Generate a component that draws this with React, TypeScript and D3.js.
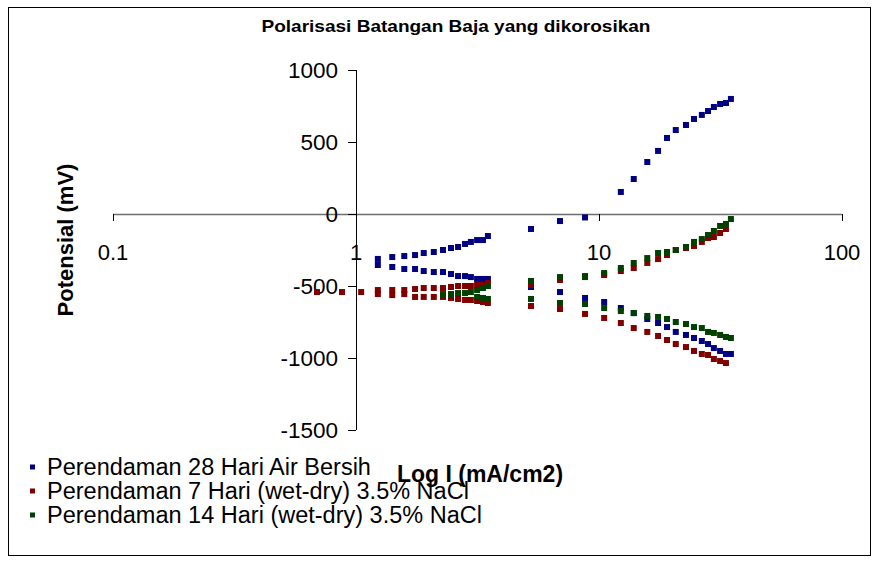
import React, { useEffect, useRef } from "react";
import * as d3 from "d3";

const title = "Polarisasi Batangan Baja yang dikorosikan";
const xTicks = [0.1, 1, 10, 100];
const yTicks = [1000, 500, 0, -500, -1000, -1500];

// Perendaman 28 Hari Air Bersih
const airUpI = [1.23, 1.41, 1.58, 1.75, 1.9, 2.09, 2.28, 2.46, 2.63, 2.81, 2.97, 3.15, 3.33, 3.49, 5.25, 6.91, 8.76, 12.3, 13.9, 15.8, 17.5, 19.05, 20.7, 22.8, 24.6, 26.5, 28.1, 29.7, 31.5, 33.3, 34.9];
const airUpE = [-312, -299, -292, -285, -271, -264, -250, -236, -229, -208, -194, -181, -181, -153, -104, -49, -24, 153, 243, 361, 438, 528, 583, 618, 660, 688, 715, 743, 764, 771, 799];
const airLowI = [1.23, 1.41, 1.58, 1.75, 1.9, 2.09, 2.28, 2.46, 2.63, 2.81, 2.97, 3.15, 3.33, 3.49, 5.25, 6.91, 8.76, 10.5, 12.3, 13.9, 15.8, 17.5, 19.05, 20.7, 22.8, 24.6, 26.5, 28.1, 29.7, 31.5, 33.3, 34.9];
const airLowE = [-354, -368, -382, -382, -396, -403, -403, -417, -431, -431, -438, -451, -451, -451, -507, -542, -583, -611, -653, -688, -729, -757, -785, -819, -840, -861, -882, -903, -931, -951, -972, -972];

// Perendaman 7 Hari (wet-dry)
const h7UpI = [0.691, 0.876, 1.05, 1.23, 1.41, 1.58, 1.75, 1.9, 2.09, 2.28, 2.46, 2.63, 2.81, 2.97, 3.15, 3.33, 3.49, 5.25, 6.91, 8.76, 10.5, 12.3, 13.9, 15.8, 17.5, 19.05, 20.7, 22.8, 24.6, 26.5, 28.1, 29.7, 31.5, 33.3];
const h7UpE = [-542, -542, -542, -528, -528, -528, -521, -514, -514, -514, -507, -500, -500, -500, -493, -493, -479, -493, -458, -438, -424, -396, -375, -340, -313, -285, -250, -236, -222, -194, -167, -160, -132, -104];
const h7LowI = [1.23, 1.41, 1.58, 1.75, 1.9, 2.09, 2.28, 2.46, 2.63, 2.81, 2.97, 3.15, 3.33, 3.49, 5.25, 6.91, 8.76, 10.5, 12.3, 13.9, 15.8, 17.5, 19.05, 20.7, 22.8, 24.6, 26.5, 28.1, 29.7, 31.5, 33.3];
const h7LowE = [-556, -563, -556, -576, -576, -576, -576, -583, -590, -597, -597, -604, -611, -618, -639, -660, -694, -722, -757, -792, -819, -847, -875, -903, -924, -951, -972, -979, -1007, -1021, -1035];

// Perendaman 14 Hari (wet-dry)
const h14UpI = [2.28, 2.46, 2.63, 2.81, 2.97, 3.15, 3.33, 3.49, 5.25, 6.91, 8.76, 10.5, 12.3, 13.9, 15.8, 17.5, 19.05, 20.7, 22.8, 24.6, 26.5, 28.1, 29.7, 31.5, 33.3, 34.9];
const h14UpE = [-556, -556, -549, -549, -542, -528, -514, -500, -465, -438, -431, -410, -375, -340, -306, -271, -264, -250, -229, -194, -174, -146, -118, -83, -69, -35];
const h14LowI = [3.15, 3.33, 3.49, 5.25, 6.91, 8.76, 10.5, 12.3, 13.9, 15.8, 17.5, 19.05, 20.7, 22.8, 24.6, 26.5, 28.1, 29.7, 31.5, 33.3, 34.9];
const h14LowE = [-576, -583, -590, -590, -618, -625, -653, -674, -688, -708, -715, -729, -750, -764, -785, -792, -819, -826, -840, -854, -861];

const seriesNames = [
  "Perendaman 28 Hari Air Bersih",
  "Perendaman 7 Hari (wet-dry) 3.5% NaCl",
  "Perendaman 14 Hari (wet-dry) 3.5% NaCl",
];
const colors = ["#000080", "#800000", "#004000"];

const zip = (xs: number[], ys: number[]) => xs.map((x, i) => ({ x, y: ys[i] }));

export default function App() {
  const ref = useRef<SVGSVGElement>(null);

  useEffect(() => {
    const svg = d3.select(ref.current);
    svg.selectAll("*").remove();

    const font = "'Liberation Sans', Arial, sans-serif";
    const x = d3.scaleLog().domain([0.1, 100]).range([113, 842]);
    const y = d3.scaleLinear().domain([-1500, 1000]).range([430, 70]);

    // frame
    svg
      .append("rect")
      .attr("x", 8.5)
      .attr("y", 7.5)
      .attr("width", 862)
      .attr("height", 548)
      .attr("fill", "white")
      .attr("stroke", "#000")
      .attr("stroke-width", 1);

    svg
      .append("text")
      .attr("x", 456)
      .attr("y", 32)
      .attr("text-anchor", "middle")
      .attr("font-family", font)
      .attr("font-weight", "bold")
      .attr("font-size", 17)
      .attr("textLength", 389)
      .attr("lengthAdjust", "spacingAndGlyphs")
      .text(title);

    // x axis at y = 0
    const gx = svg.append("g");
    gx.append("line")
      .attr("x1", x(0.1))
      .attr("x2", x(100))
      .attr("y1", y(0) + 0.5)
      .attr("y2", y(0) + 0.5)
      .attr("stroke", "#6e6e6e")
      .attr("stroke-width", 1.5);
    gx.selectAll(".tick")
      .data(xTicks)
      .enter()
      .append("line")
      .attr("x1", (d) => Math.round(x(d)) + 0.5)
      .attr("x2", (d) => Math.round(x(d)) + 0.5)
      .attr("y1", y(0))
      .attr("y2", y(0) + 7)
      .attr("stroke", "#000");
    gx.selectAll(".lbl")
      .data(xTicks)
      .enter()
      .append("text")
      .attr("x", (d) => x(d))
      .attr("y", 260)
      .attr("text-anchor", "middle")
      .attr("font-family", font)
      .attr("font-size", 22)
      .text((d) => String(d));

    // y axis at x = 1
    const gy = svg.append("g");
    gy.append("line")
      .attr("x1", Math.round(x(1)) + 0.5)
      .attr("x2", Math.round(x(1)) + 0.5)
      .attr("y1", y(1000))
      .attr("y2", y(-1500))
      .attr("stroke", "#000");
    gy.selectAll(".tick")
      .data(yTicks)
      .enter()
      .append("line")
      .attr("x1", x(1) - 8)
      .attr("x2", x(1))
      .attr("y1", (d) => Math.round(y(d)) + 0.5)
      .attr("y2", (d) => Math.round(y(d)) + 0.5)
      .attr("stroke", "#000");
    gy.selectAll(".lbl")
      .data(yTicks)
      .enter()
      .append("text")
      .attr("x", 338)
      .attr("y", (d) => y(d) + 8)
      .attr("text-anchor", "end")
      .attr("font-family", font)
      .attr("font-size", 22.5)
      .text((d) => String(d));

    svg
      .append("text")
      .attr("transform", "translate(73,240) rotate(-90)")
      .attr("text-anchor", "middle")
      .attr("font-family", font)
      .attr("font-weight", "bold")
      .attr("font-size", 22)
      .text("Potensial (mV)");

    svg
      .append("text")
      .attr("x", 480)
      .attr("y", 482)
      .attr("text-anchor", "middle")
      .attr("font-family", font)
      .attr("font-weight", "bold")
      .attr("font-size", 23)
      .text("Log I (mA/cm2)");

    const series = [
      [zip(airUpI, airUpE), zip(airLowI, airLowE)],
      [zip(h7UpI, h7UpE), zip(h7LowI, h7LowE)],
      [zip(h14UpI, h14UpE), zip(h14LowI, h14LowE)],
    ];
    const s = 6;
    series.forEach((branches, i) => {
      const pts = branches.flat();
      svg
        .append("g")
        .selectAll("rect")
        .data(pts)
        .enter()
        .append("rect")
        .attr("x", (d) => x(d.x) - s / 2)
        .attr("y", (d) => y(d.y) - s / 2)
        .attr("width", s)
        .attr("height", s)
        .attr("fill", colors[i]);
    });

    // legend
    const lg = svg.append("g");
    seriesNames.forEach((name, i) => {
      const cy = 467 + i * 24;
      lg.append("rect")
        .attr("x", 30)
        .attr("y", cy - 2.5)
        .attr("width", 5)
        .attr("height", 5)
        .attr("fill", colors[i]);
      lg.append("text")
        .attr("x", 47)
        .attr("y", cy + 8)
        .attr("font-family", font)
        .attr("font-size", 23.5)
        .text(name);
    });
  });

  return (
    <svg
      ref={ref}
      width={877}
      height={563}
      style={{ position: "absolute", left: 0, top: 0, display: "block" }}
    />
  );
}
